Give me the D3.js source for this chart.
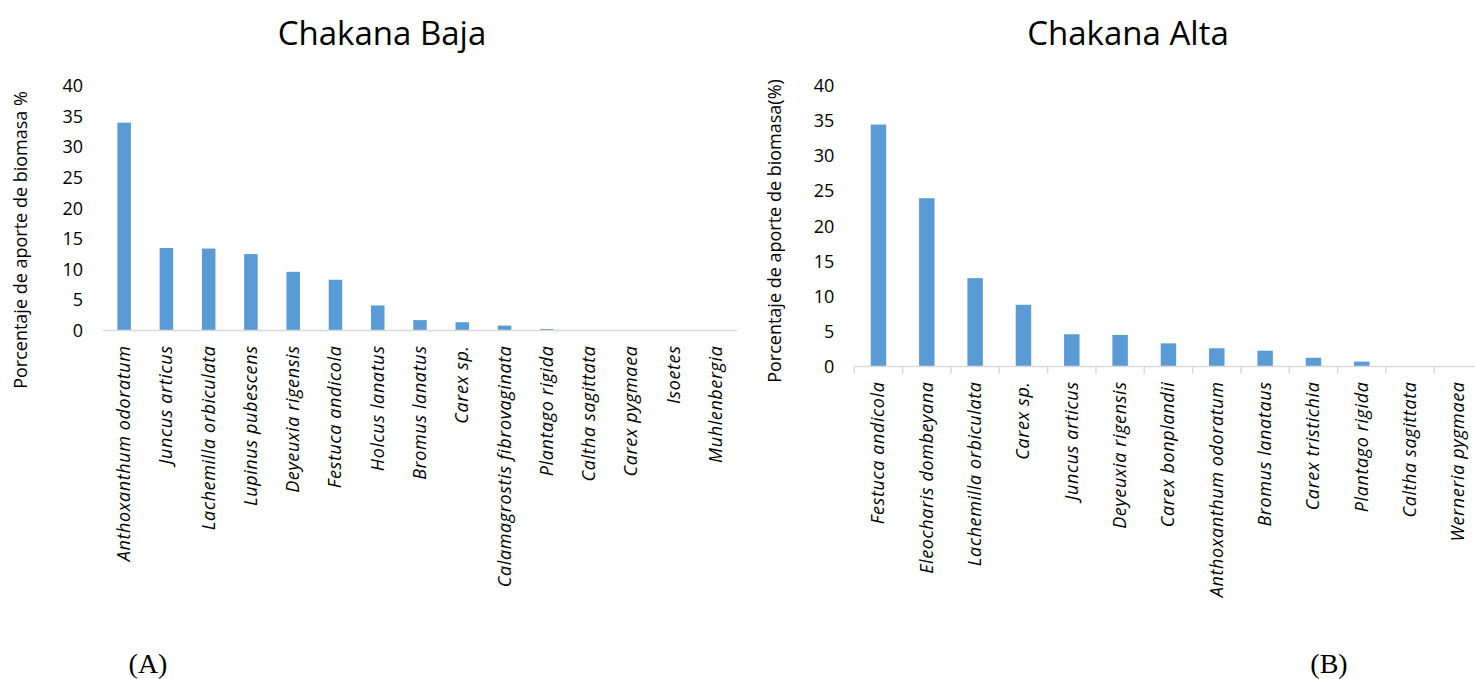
<!DOCTYPE html>
<html>
<head>
<meta charset="utf-8"/>
<script src="https://cdn.jsdelivr.net/npm/d3@7"></script>
<style>
  body { margin:0; background:#fff; }
  svg text { font-family:"Open Sans", "Noto Sans", sans-serif; fill:#000; }
  .title { font-size:33px; text-anchor:middle; }
  .ylab { font-size:18px; text-anchor:middle; }
  .tick text { font-size:18px; }
  .cat { font-size:18px; font-style:italic; text-anchor:end; letter-spacing:0.6px; }
  .panel { font-family:"Liberation Serif", serif; font-size:28px; text-anchor:middle; }
</style>
</head>
<body>
<script>
var baja_species = ["Anthoxanthum odoratum", "Juncus articus", "Lachemilla orbiculata", "Lupinus pubescens",
  "Deyeuxia rigensis", "Festuca andicola", "Holcus lanatus", "Bromus lanatus", "Carex sp.",
  "Calamagrostis fibrovaginata", "Plantago rigida", "Caltha sagittata", "Carex pygmaea", "Isoetes", "Muhlenbergia"];
var baja_values = [34.0, 13.5, 13.4, 12.5, 9.6, 8.3, 4.1, 1.7, 1.35, 0.8, 0.25, 0.05, 0, 0, 0];

var alta_species = ["Festuca andicola", "Eleocharis dombeyana", "Lachemilla orbiculata", "Carex sp.",
  "Juncus articus", "Deyeuxia rigensis", "Carex bonplandii", "Anthoxanthum odoratum", "Bromus lanataus",
  "Carex tristichia", "Plantago rigida", "Caltha sagittata", "Werneria pygmaea"];
var alta_values = [34.5, 24.0, 12.6, 8.8, 4.6, 4.5, 3.3, 2.6, 2.25, 1.25, 0.7, 0, 0];

var y_ticks = [0, 5, 10, 15, 20, 25, 30, 35, 40];

var bar_color = "#5B9BD5";
var axis_color = "#D9D9D9";

var svg = d3.select("body").append("svg")
  .attr("width", 1475)
  .attr("height", 679);

drawChart({
  title: "Chakana Baja", ylabel: "Porcentaje de aporte de biomasa %",
  cats: baja_species, vals: baja_values,
  x0: 103, x1: 737, y0: 330.5, y1: 86,
  titleX: 382, ylabX: 27, ylabY: 240, ticks: false,
  panel: "(A)", panelX: 148
});
drawChart({
  title: "Chakana Alta", ylabel: "Porcentaje de aporte de biomasa(%)",
  cats: alta_species, vals: alta_values,
  x0: 854.3, x1: 1482.6, y0: 366.5, y1: 86,
  titleX: 1128, ylabX: 781, ylabY: 231, ticks: true,
  panel: "(B)", panelX: 1329
});

function drawChart(o) {
  var g = svg.append("g");
  var x = d3.scaleBand().domain(o.cats).range([o.x0, o.x1])
    .paddingInner(0.68).paddingOuter(0.34);
  var y = d3.scaleLinear().domain([0, 40]).range([o.y0, o.y1]);

  g.append("text").attr("class", "title")
    .attr("x", o.titleX).attr("y", 45).text(o.title);

  g.append("text").attr("class", "ylab")
    .attr("transform", "translate(" + o.ylabX + "," + o.ylabY + ") rotate(-90)")
    .text(o.ylabel);

  var ax = g.append("g")
    .attr("transform", "translate(" + (o.x0 - 20) + ",0)")
    .call(d3.axisLeft(y).tickValues(y_ticks).tickSize(0).tickPadding(0));
  ax.select(".domain").remove();

  g.selectAll("rect.bar").data(o.vals).enter().append("rect")
    .attr("class", "bar")
    .attr("x", function(d, i) { return x(o.cats[i]); })
    .attr("width", x.bandwidth())
    .attr("y", function(d) { return y(d); })
    .attr("height", function(d) { return y(0) - y(d); })
    .attr("fill", bar_color);

  g.append("line")
    .attr("x1", o.x0).attr("x2", o.x1)
    .attr("y1", y(0)).attr("y2", y(0))
    .attr("stroke", axis_color).attr("stroke-width", 1.5);

  if (o.ticks) {
    var step = x.step();
    var bounds = o.cats.map(function(c) { return x(c) - step * 0.34; });
    bounds.push(o.x1);
    g.selectAll("line.tk").data(bounds).enter().append("line")
      .attr("class", "tk")
      .attr("x1", function(d) { return d; }).attr("x2", function(d) { return d; })
      .attr("y1", y(0)).attr("y2", y(0) + 7)
      .attr("stroke", axis_color).attr("stroke-width", 1.5);
  }

  g.selectAll("text.cat").data(o.cats).enter().append("text")
    .attr("class", "cat")
    .attr("transform", function(d) {
      return "translate(" + (x(d) + x.bandwidth() / 2 + 6) + "," + (y(0) + 15) + ") rotate(-90)";
    })
    .text(function(d) { return d; });

  g.append("text").attr("class", "panel")
    .attr("x", o.panelX).attr("y", 673).text(o.panel);
}
</script>
</body>
</html>
